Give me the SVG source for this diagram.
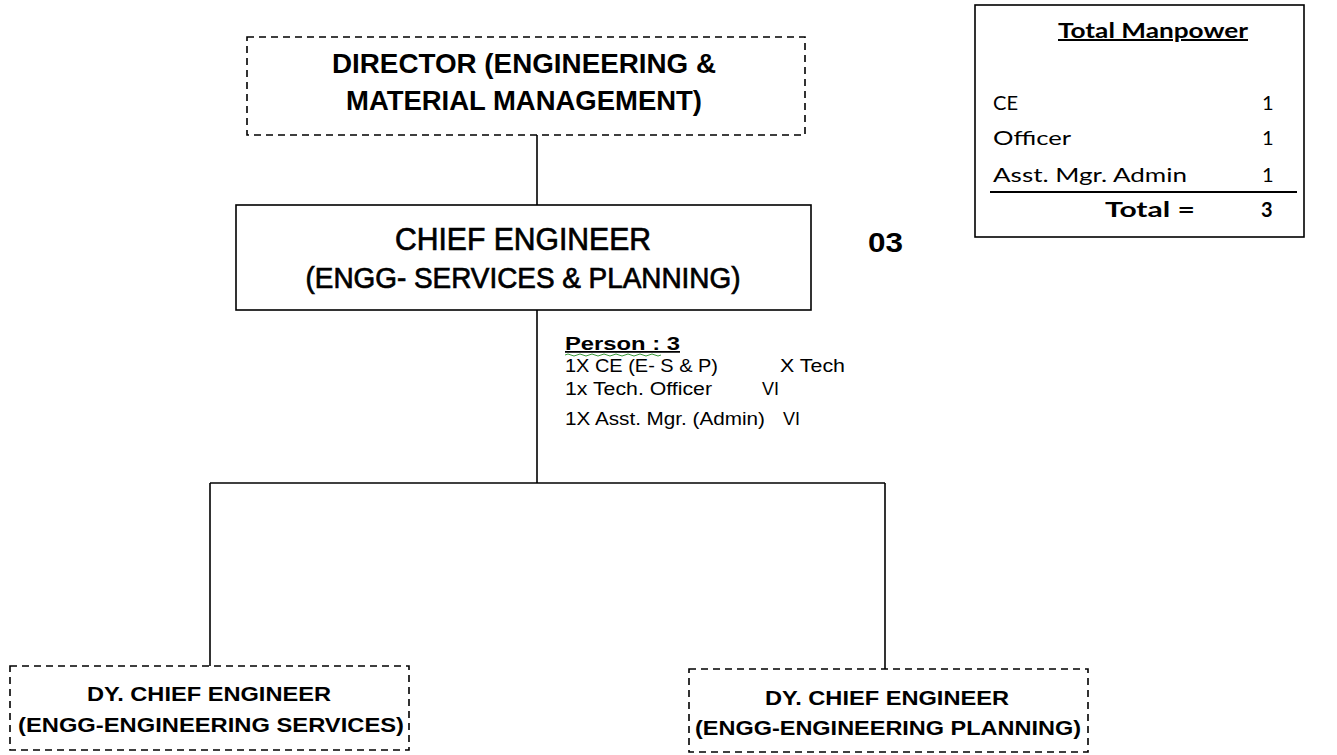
<svg xmlns="http://www.w3.org/2000/svg" width="1337" height="755" viewBox="0 0 1337 755">
<style>
.dash{fill:#fff;stroke:#000;stroke-width:1.6;stroke-dasharray:7,5}
.solid{fill:#fff;stroke:#000;stroke-width:1.6}
.con{stroke:#000;stroke-width:1.6;fill:none}
.hb{font-family:"Liberation Sans",Arial,sans-serif;font-weight:bold;fill:#000}
.hr{font-family:"Liberation Sans",Arial,sans-serif;fill:#000}
.cal{font-family:Lato,"Open Sans",sans-serif;fill:#000}
</style>
<rect width="1337" height="755" fill="#fff"/>
<g id="connectors">
<line class="con" x1="537" y1="135" x2="537" y2="205"/>
<line class="con" x1="537" y1="310" x2="537" y2="483"/>
<line class="con" x1="210" y1="483" x2="885" y2="483"/>
<line class="con" x1="210" y1="483" x2="210" y2="666"/>
<line class="con" x1="885" y1="483" x2="885" y2="669"/>
</g>
<g id="director">
<rect class="dash" x="247" y="37" width="558" height="98"/>
<text class="hb" x="524" y="73" font-size="27.5" text-anchor="middle" textLength="384" lengthAdjust="spacingAndGlyphs">DIRECTOR (ENGINEERING &amp;</text>
<text class="hb" x="524" y="110" font-size="27.5" text-anchor="middle" textLength="356" lengthAdjust="spacingAndGlyphs">MATERIAL MANAGEMENT)</text>
</g>
<g id="chief">
<rect class="solid" x="236" y="205" width="575" height="105"/>
<text class="hr" x="523" y="250" font-size="32" text-anchor="middle" textLength="256" lengthAdjust="spacingAndGlyphs" stroke="#000" stroke-width="0.7">CHIEF ENGINEER</text>
<text class="hr" x="523" y="288" font-size="29" text-anchor="middle" textLength="435" lengthAdjust="spacingAndGlyphs" stroke="#000" stroke-width="0.7">(ENGG- SERVICES &amp; PLANNING)</text>
</g>
<g id="count">
<text class="hb" x="868" y="252" font-size="28" textLength="35" lengthAdjust="spacingAndGlyphs">03</text>
</g>
<g id="persons">
<text class="hb" x="565" y="350" font-size="17.5" text-decoration="underline" textLength="115" lengthAdjust="spacingAndGlyphs">Person :  3</text>
<path d="M565 355 q3 -2 6 0 t6 0 t6 0 t6 0 t6 0 t6 0 t6 0 t6 0 t6 0 t6 0 t6 0 t6 0 t6 0 t6 0 t6 0 t6 0" fill="none" stroke="#3a9a3a" stroke-width="1"/>
<text class="hr" x="565" y="372" font-size="18" textLength="153" lengthAdjust="spacingAndGlyphs">1X CE (E- S &amp; P)</text>
<text class="hr" x="780" y="372" font-size="18" textLength="65" lengthAdjust="spacingAndGlyphs">X Tech</text>
<text class="hr" x="565" y="395" font-size="18" textLength="147" lengthAdjust="spacingAndGlyphs">1x Tech. Officer</text>
<text class="hr" x="762" y="395" font-size="18" textLength="17" lengthAdjust="spacingAndGlyphs">VI</text>
<text class="hr" x="565" y="425" font-size="18" textLength="200" lengthAdjust="spacingAndGlyphs">1X Asst. Mgr. (Admin)</text>
<text class="hr" x="783" y="425" font-size="18" textLength="17" lengthAdjust="spacingAndGlyphs">VI</text>
</g>
<g id="dy-services">
<rect class="dash" x="10" y="666" width="399" height="84"/>
<text class="hb" x="209" y="701" font-size="19.5" text-anchor="middle" textLength="244" lengthAdjust="spacingAndGlyphs">DY. CHIEF ENGINEER</text>
<text class="hb" x="211" y="732" font-size="19.5" text-anchor="middle" textLength="386" lengthAdjust="spacingAndGlyphs">(ENGG-ENGINEERING SERVICES)</text>
</g>
<g id="dy-planning">
<rect class="dash" x="689" y="669" width="399" height="83"/>
<text class="hb" x="887" y="705" font-size="19.5" text-anchor="middle" textLength="244" lengthAdjust="spacingAndGlyphs">DY. CHIEF ENGINEER</text>
<text class="hb" x="888" y="735" font-size="19.5" text-anchor="middle" textLength="386" lengthAdjust="spacingAndGlyphs">(ENGG-ENGINEERING PLANNING)</text>
</g>
<g id="manpower">
<rect class="solid" x="975" y="5" width="329" height="232" stroke-width="2"/>
<text class="cal" x="1153" y="38" font-size="20" font-weight="bold" text-anchor="middle" text-decoration="underline" textLength="190" lengthAdjust="spacingAndGlyphs">Total Manpower</text>
<text class="cal" x="993" y="110" font-size="20" textLength="25" lengthAdjust="spacingAndGlyphs">CE</text>
<text class="cal" x="1262" y="110" font-size="20">1</text>
<text class="cal" x="993" y="145" font-size="20" textLength="78" lengthAdjust="spacingAndGlyphs">Officer</text>
<text class="cal" x="1262" y="145" font-size="20">1</text>
<text class="cal" x="993" y="182" font-size="20" textLength="194" lengthAdjust="spacingAndGlyphs">Asst. Mgr. Admin</text>
<text class="cal" x="1262" y="182" font-size="20">1</text>
<line x1="990" y1="192" x2="1297" y2="192" stroke="#000" stroke-width="2"/>
<text class="cal" x="1105" y="217" font-size="20" font-weight="bold" textLength="90" lengthAdjust="spacingAndGlyphs">Total  =</text>
<text class="cal" x="1261" y="217" font-size="20" font-weight="bold">3</text>
</g>
</svg>
